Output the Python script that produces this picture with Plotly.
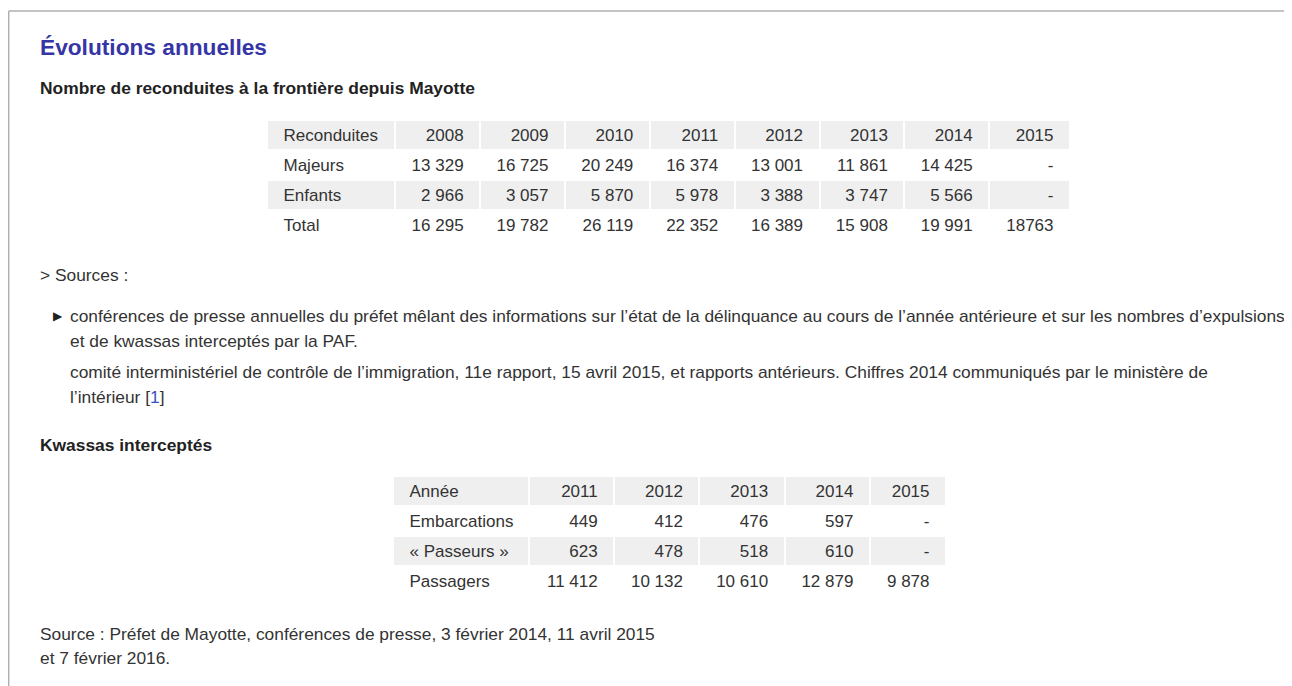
import plotly.graph_objects as go

# page body has an 8px margin: figure is placed at (8, 8) in the 1292x686 window
OX, OY = 8, 8
W, H = 1292 - OX, 686 - OY

# ---------------- data ----------------
years1 = ["2008", "2009", "2010", "2011", "2012", "2013", "2014", "2015"]
majeurs = [13329, 16725, 20249, 16374, 13001, 11861, 14425, None]
enfants = [2966, 3057, 5870, 5978, 3388, 3747, 5566, None]
total = [16295, 19782, 26119, 22352, 16389, 15908, 19991, 18763]
total_grouped = [True, True, True, True, True, True, True, False]

years2 = ["2011", "2012", "2013", "2014", "2015"]
embarcations = [449, 412, 476, 597, None]
passeurs = [623, 478, 518, 610, None]
passagers = [11412, 10132, 10610, 12879, 9878]

NB = "\u00a0"


def fmt(v, grouped=True):
    if v is None:
        return "-"
    if grouped:
        return f"{v:,}".replace(",", NB)
    return str(v)


def px_x(x):
    return (x - OX) / W


def px_y(y):
    return 1 - (y - OY) / H


TXT = "#333333"
GRAY = "#efefef"
FONT = "Arial, Liberation Sans, sans-serif"
EN = "\u2002"

fig = go.Figure()


def add_table(first_header, headers, first_col, cols, x0, x1, ytop, ybot, widths):
    n = len(cols) + 1
    align = ["left"] + ["right"] * (n - 1)
    prefix = [EN] + [""] * (n - 1)
    suffix = [""] + [EN] * (n - 1)
    fig.add_trace(go.Table(
        domain=dict(x=[px_x(x0), px_x(x1)], y=[px_y(ybot), px_y(ytop)]),
        columnwidth=widths,
        header=dict(values=[first_header] + headers,
                    fill_color=GRAY, line=dict(color="white", width=2),
                    align=align, prefix=prefix, suffix=suffix,
                    font=dict(family=FONT, size=17, color=TXT), height=30),
        cells=dict(values=[first_col] + cols,
                   fill_color=[["white", GRAY, "white"]] * n,
                   line=dict(color="white", width=2),
                   align=align, prefix=prefix, suffix=suffix,
                   font=dict(family=FONT, size=17, color=TXT), height=30),
    ))


# ---------------- table 1 ----------------
t1_cols = [[fmt(majeurs[i]), fmt(enfants[i]), fmt(total[i], total_grouped[i])]
           for i in range(len(years1))]
add_table("Reconduites", years1, ["Majeurs", "Enfants", "Total"], t1_cols,
          267, 1070, 120, 245, [127] + [84] * 7 + [80])

# ---------------- table 2 ----------------
t2_cols = [[fmt(embarcations[i]), fmt(passeurs[i]), fmt(passagers[i])]
           for i in range(len(years2))]
add_table("Année", years2, ["Embarcations", f"«{NB}Passeurs{NB}»", "Passagers"], t2_cols,
          393, 946, 476, 600, [134] + [84] * 4 + [75])

# ---------------- texts ----------------
anns = []


def txt(x, y, s, size=17.35, color=TXT, bold=False):
    if bold:
        s = f"<b>{s}</b>"
    anns.append(dict(x=px_x(x), y=px_y(y), xref="paper", yref="paper",
                     text=s, showarrow=False, xanchor="left", yanchor="middle",
                     font=dict(family=FONT, size=size, color=color)))


txt(38, 47, "Évolutions annuelles", size=22.7, color="#3535a6", bold=True)
txt(38, 88, "Nombre de reconduites à la frontière depuis Mayotte", size=17.4, color="#222222", bold=True)
txt(38, 275, "&gt; Sources :")
anns.append(dict(x=px_x(58), y=px_y(316), xref="paper", yref="paper", text="▶",
                 showarrow=False, xanchor="center", yanchor="middle",
                 font=dict(family="DejaVu Sans", size=12, color="#222222")))
txt(68, 316, "conférences de presse annuelles du préfet mêlant des informations sur l’état de la délinquance au cours de l’année antérieure et sur les nombres d’expulsions")
txt(68, 341, "et de kwassas interceptés par la PAF.")
txt(68, 372, "comité interministériel de contrôle de l’immigration, 11e rapport, 15 avril 2015, et rapports antérieurs. Chiffres 2014 communiqués par le ministère de")
txt(68, 397, "l’intérieur [<span style='color:#3a4fc0'>1</span>]")
txt(38, 445, "Kwassas interceptés", size=17.4, color="#222222", bold=True)
txt(38, 634, "Source : Préfet de Mayotte, conférences de presse, 3 février 2014, 11 avril 2015")
txt(38, 658, "et 7 février 2016.")

# ---------------- page frame ----------------
shapes = [
    dict(type="line", xref="paper", yref="paper", x0=px_x(8.7), x1=1, y0=px_y(11), y1=px_y(11),
         line=dict(color="#b0b0b0", width=1.5)),
    dict(type="line", xref="paper", yref="paper", x0=px_x(8.7), x1=px_x(8.7), y0=px_y(11), y1=0,
         line=dict(color="#b0b0b0", width=1.5)),
]

fig.update_layout(
    width=W, height=H,
    margin=dict(l=0, r=0, t=0, b=0),
    paper_bgcolor="white", plot_bgcolor="white",
    annotations=anns, shapes=shapes,
    showlegend=False,
)
fig.write_html("out.html")
